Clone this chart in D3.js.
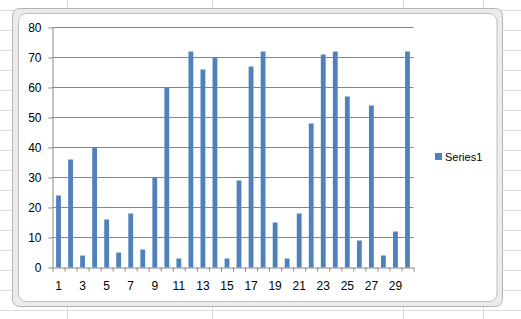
<!DOCTYPE html>
<html>
<head>
<meta charset="utf-8">
<script src="https://cdn.jsdelivr.net/npm/d3@7"></script>
<style>
  body { margin: 0; background: #fff; }
  text { font-family: "Liberation Sans", Arial, sans-serif; fill: #000; }
</style>
</head>
<body>
<div id="chart"></div>
<script>
// data
var categories = d3.range(1, 31);
var series1 = [24, 36, 4, 40, 16, 5, 18, 6, 30, 60,
               3, 72, 66, 70, 3, 29, 67, 72, 15, 3,
               18, 48, 71, 72, 57, 9, 54, 4, 12, 72];
var yTicks = [0, 10, 20, 30, 40, 50, 60, 70, 80];
var seriesName = "Series1";

var W = 521, H = 319;
var plot = {left: 52.5, right: 413.5, top: 27.5, bottom: 267.5};

var svg = d3.select("#chart").append("svg")
    .attr("width", W)
    .attr("height", H);

// spreadsheet cells behind the chart
var sheet = svg.append("g").attr("stroke", "#d9dbdd").attr("stroke-width", 1);
d3.range(10.5, H, 20).forEach(function(y) {
    sheet.append("line").attr("x1", 0).attr("x2", W).attr("y1", y).attr("y2", y);
});
[67.5, 212.5, 403.5, 483.5].forEach(function(x) {
    sheet.append("line").attr("x1", x).attr("x2", x).attr("y1", 0).attr("y2", H);
});

// chart frame
svg.append("rect")
    .attr("x", 12.5).attr("y", 8.5)
    .attr("width", 490).attr("height", 298)
    .attr("rx", 7)
    .attr("fill", "#ebebeb")
    .attr("stroke", "#b4b4b4");
svg.append("rect")
    .attr("x", 18.5).attr("y", 13.5)
    .attr("width", 478.5).attr("height", 288)
    .attr("rx", 8)
    .attr("fill", "#fff")
    .attr("stroke", "#bdbdbd");

// scales
var x = d3.scaleBand()
    .domain(categories)
    .range([plot.left, plot.right])
    .paddingInner(0.6)
    .paddingOuter(0.3);

var xEdge = d3.scaleLinear()
    .domain([0, categories.length])
    .range([plot.left, plot.right]);

var y = d3.scaleLinear()
    .domain([0, 80])
    .range([plot.bottom, plot.top]);

// gridlines
svg.append("g")
    .selectAll("line")
    .data(yTicks.slice(1))
    .enter().append("line")
    .attr("x1", plot.left)
    .attr("x2", plot.right)
    .attr("y1", function(d) { return y(d); })
    .attr("y2", function(d) { return y(d); })
    .attr("stroke", "#868686");

// bars
svg.append("g")
    .selectAll("rect")
    .data(series1)
    .enter().append("rect")
    .attr("x", function(d, i) { return x(categories[i]); })
    .attr("y", function(d) { return y(d); })
    .attr("width", x.bandwidth())
    .attr("height", function(d) { return y(0) - y(d); })
    .attr("fill", "#4f81bd");

// y axis
var yAxis = svg.append("g")
    .attr("transform", "translate(" + plot.left + ",0)")
    .call(d3.axisLeft(y).tickValues(yTicks).tickSize(4).tickPadding(7).tickSizeOuter(0));
yAxis.selectAll("line, path").attr("stroke", "#868686");
yAxis.selectAll("text").style("font-size", "12px").attr("fill", "#000");

// x axis: tick marks between categories
var xTickAxis = svg.append("g")
    .attr("transform", "translate(0," + plot.bottom + ")")
    .call(d3.axisBottom(xEdge).tickValues(d3.range(categories.length + 1)).tickFormat("").tickSize(4).tickSizeOuter(0));
xTickAxis.selectAll("line, path").attr("stroke", "#868686");

// x axis: labels on every other category
var xLabelAxis = svg.append("g")
    .attr("transform", "translate(0," + plot.bottom + ")")
    .call(d3.axisBottom(x).tickValues(categories.filter(function(d) { return d % 2 === 1; })).tickSize(0).tickPadding(14));
xLabelAxis.select("path").remove();
xLabelAxis.selectAll("text").style("font-size", "12px").attr("fill", "#000");

// legend
var legend = svg.append("g").attr("transform", "translate(435,153)");
legend.append("rect")
    .attr("width", 7).attr("height", 7)
    .attr("fill", "#4f81bd");
legend.append("text")
    .attr("x", 10).attr("y", 8)
    .style("font-size", "11px")
    .text(seriesName);
</script>
</body>
</html>
